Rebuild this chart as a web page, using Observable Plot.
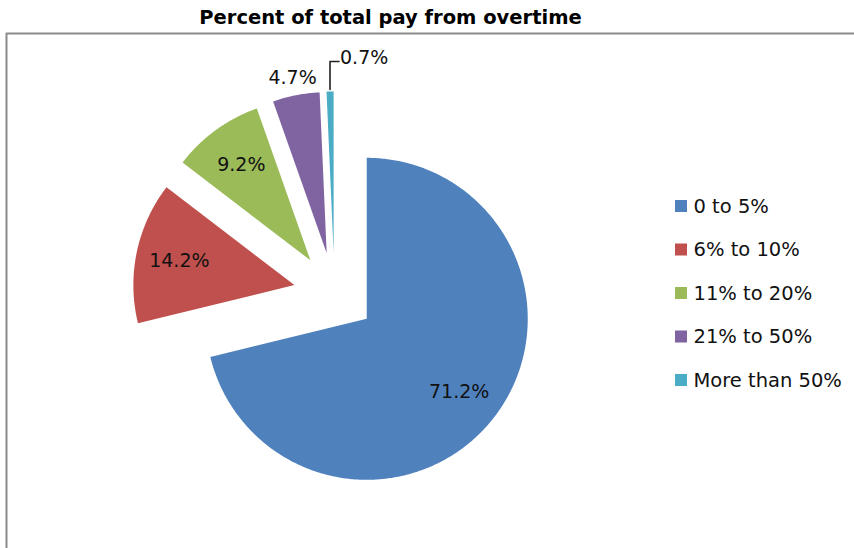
<!DOCTYPE html>
<html><head><meta charset="utf-8">
<script src="https://cdn.jsdelivr.net/npm/d3@7"></script>
<script src="https://cdn.jsdelivr.net/npm/@observablehq/plot@0.6"></script>
<style>body{margin:0;background:#fff;overflow:hidden}</style>
</head><body><div id="chart"></div>
<script>
const title = "Percent of total pay from overtime";
const categories = ["0 to 5%", "6% to 10%", "11% to 20%", "21% to 50%", "More than 50%"];
const values = [71.2, 14.2, 9.2, 4.7, 0.7];
const valueLabels = ["71.2%", "14.2%", "9.2%", "4.7%", "0.7%"];
const colors = ["#4F81BD", "#C0504D", "#9BBB59", "#8064A2", "#4BACC6"];

const W = 854, H = 548;
const cx = 334, cy = 293, R = 161, explode = 41;
const total = d3.sum(values);

let acc = 0;
const slices = values.map((v, i) => {
  const a0 = acc / total * 2 * Math.PI; acc += v;
  const a1 = acc / total * 2 * Math.PI;
  const mid = (a0 + a1) / 2;
  const ox = cx + explode * Math.sin(mid), oy = cy - explode * Math.cos(mid);
  return {cat: categories[i], label: valueLabels[i], share: v / total, a0, a1, mid, ox, oy};
});

const pts = [];
for (const s of slices) {
  pts.push({cat: s.cat, x: s.ox, y: s.oy});
  const n = Math.max(2, Math.ceil((s.a1 - s.a0) / 0.01));
  for (let k = 0; k <= n; k++) {
    const a = s.a0 + (s.a1 - s.a0) * k / n;
    pts.push({cat: s.cat, x: s.ox + R * Math.sin(a), y: s.oy - R * Math.cos(a)});
  }
  pts.push({cat: s.cat, x: s.ox, y: s.oy});
}

const inside = [], outside = [], leaderText = [], leaders = [];
slices.forEach((s, i) => {
  const sx = Math.sin(s.mid), sy = -Math.cos(s.mid);
  if (s.share >= 0.06) {
    inside.push({x: s.ox + 0.73 * R * sx, y: s.oy + 0.73 * R * sy, t: s.label});
  } else if (s.share >= 0.03) {
    outside.push({x: s.ox + (R + 18) * sx, y: s.oy + (R + 18) * sy, t: s.label});
  } else {
    const x0 = s.ox + (R + 2) * sx, y0 = s.oy + (R + 2) * sy;
    const y1 = y0 - 28;
    leaders.push({id: i, x: x0, y: y0}, {id: i, x: x0, y: y1}, {id: i, x: x0 + 9, y: y1});
    leaderText.push({x: x0 + 10, y: y1 - 4, t: s.label});
  }
});

const legend = categories.map((c, i) => ({cat: c, x: 681, y: 206 + i * 43.5}));
const frame = [{x: 6, y: H}, {x: 6, y: 33}, {x: W, y: 33}];

const font = "'DejaVu Sans', Verdana, sans-serif";
const chart = Plot.plot({
  width: W, height: H,
  margin: 0,
  x: {domain: [0, W], range: [0, W], axis: null},
  y: {domain: [0, H], range: [0, H], axis: null},
  color: {domain: categories, range: colors},
  style: {background: "#fff"},
  marks: [
    Plot.line(frame, {x: "x", y: "y", stroke: "#8a8a8a", strokeWidth: 2}),
    Plot.text([title], {x: () => 390, y: () => 17, text: d => d, fontFamily: font, fontWeight: "bold", fontSize: 19.5, fill: "#000"}),
    Plot.line(pts, {x: "x", y: "y", z: "cat", fill: "cat", stroke: null, curve: "linear"}),
    Plot.text(inside, {x: "x", y: "y", text: "t", fontFamily: font, fontSize: 19, fill: "#111"}),
    Plot.text(outside, {x: "x", y: "y", text: "t", fontFamily: font, fontSize: 19, fill: "#111"}),
    Plot.line(leaders, {x: "x", y: "y", z: "id", stroke: "#222", strokeWidth: 1.6}),
    Plot.text(leaderText, {x: "x", y: "y", text: "t", textAnchor: "start", fontFamily: font, fontSize: 19, fill: "#111"}),
    Plot.rect(legend, {x1: d => d.x - 6, x2: d => d.x + 6, y1: d => d.y - 6, y2: d => d.y + 6, fill: "cat"}),
    Plot.text(legend, {x: d => d.x + 12, y: "y", text: "cat", textAnchor: "start", fontFamily: font, fontSize: 19.5, fill: "#111"})
  ]
});
document.getElementById("chart").append(chart);
</script>
</body></html>
